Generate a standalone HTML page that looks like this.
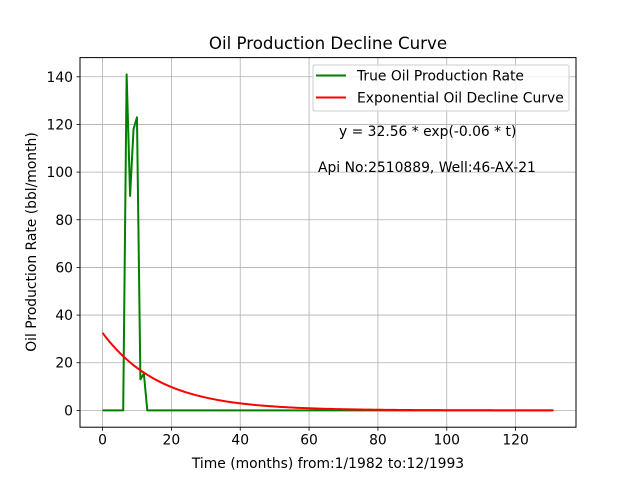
<!DOCTYPE html>
<html><head><meta charset="utf-8"><style>
html,body{margin:0;padding:0;background:#fff}
svg{display:block;font-family:"DejaVu Sans","Liberation Sans",sans-serif}
</style></head><body>
<svg id="chart" width="640" height="480" viewBox="0 0 640 480">
<rect width="640" height="480" fill="#fff"/>
<g id="grid"></g>
<g id="ticks"></g>
<g id="series"></g>
<rect x="80" y="57.6" width="496" height="369.6" fill="none" stroke="#000" stroke-width="1"/>
<text x="328" y="49" font-size="16.67" text-anchor="middle">Oil Production Decline Curve</text>
<text x="328" y="468" font-size="13.89" text-anchor="middle">Time (months) from:1/1982 to:12/1993</text>
<text transform="translate(36,242) rotate(-90)" font-size="13.89" text-anchor="middle">Oil Production Rate (bbl/month)</text>
<text x="339" y="136" font-size="13.89">y = 32.56 * exp(-0.06 * t)</text>
<text x="318" y="172" font-size="13.89">Api No:2510889, Well:46-AX-21</text>
<g>
<rect x="313" y="65" width="256" height="46" rx="2" fill="#fff" fill-opacity="0.8" stroke="#ccc"/>
<g><line x1="316" y1="75.5" x2="346" y2="75.5" stroke="green" stroke-width="2"/><text x="357" y="80.5" font-size="13.89">True Oil Production Rate</text></g>
<g><line x1="316" y1="97.5" x2="346" y2="97.5" stroke="red" stroke-width="2"/><text x="357" y="102.5" font-size="13.89">Exponential Oil Decline Curve</text></g>
</g>
</svg>
<script>
const months = Array.from({length:132},(_,i)=>i);
const nonZeroMonths = [7,8,9,10,11,12];
const nonZeroRates = [141,90,118,123,13,15.5];
const fitA = 32.56;
const fitB = 0.06;
const xTicks = [0,20,40,60,80,100,120];
const yTicks = [0,20,40,60,80,100,120,140];

const X0=80,X1=576,Y0=427.2,Y1=57.6;
const xmin=-6.55,xmax=137.55,ymin=-7.05,ymax=148.05;
const sx=v=>X0+(v-xmin)/(xmax-xmin)*(X1-X0);
const sy=v=>Y0-(v-ymin)/(ymax-ymin)*(Y0-Y1);
const NS="http://www.w3.org/2000/svg";
function mk(tag,attrs,parent){const e=document.createElementNS(NS,tag);for(const k in attrs)e.setAttribute(k,attrs[k]);parent.appendChild(e);return e;}
const grid=document.getElementById('grid'),ticks=document.getElementById('ticks'),series=document.getElementById('series');
xTicks.forEach(t=>{
  const x=sx(t);
  const g=mk('line',{x1:x,y1:Y1,x2:x,y2:Y0,stroke:'#b0b0b0','stroke-width':0.8},grid);
  
  
  mk('line',{x1:x,y1:Y0,x2:x,y2:Y0+3.5,stroke:'#000','stroke-width':0.8},ticks);
  const l=mk('text',{x:x,y:Y0+17.5,'font-size':13.89,'text-anchor':'middle'},ticks);
  l.textContent=t;
  
  
});
yTicks.forEach(t=>{
  const y=sy(t);
  const g=mk('line',{x1:X0,y1:y,x2:X1,y2:y,stroke:'#b0b0b0','stroke-width':0.8},grid);
  
  
  mk('line',{x1:X0-3.5,y1:y,x2:X0,y2:y,stroke:'#000','stroke-width':0.8},ticks);
  const l=mk('text',{x:X0-7,y:y+5,'font-size':13.89,'text-anchor':'end'},ticks);
  l.textContent=t;
  
  
});
const rates=months.map(m=>{const i=nonZeroMonths.indexOf(m);return i>=0?nonZeroRates[i]:0;});
const tp=mk('polyline',{points:months.map((m,i)=>sx(m)+','+sy(rates[i])).join(' '),fill:'none',stroke:'green','stroke-width':2,'stroke-linejoin':'round'},series);


const fp=mk('polyline',{points:months.map(m=>sx(m)+','+sy(fitA*Math.exp(-fitB*m))).join(' '),fill:'none',stroke:'red','stroke-width':2},series);


</script>
</body></html>
